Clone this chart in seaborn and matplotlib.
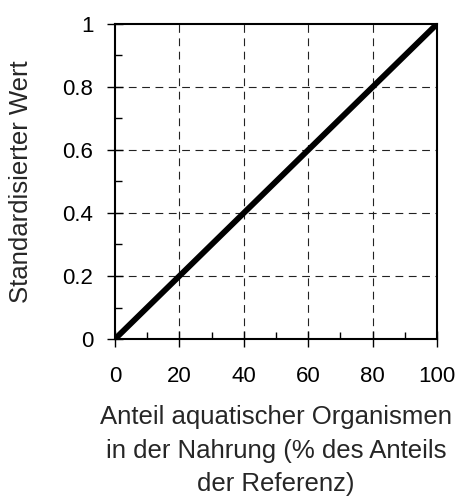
import matplotlib
matplotlib.use("Agg")
import matplotlib.pyplot as plt
import seaborn as sns
import numpy as np
import pandas as pd

# data
anteil = [0, 100]
wert = [0, 1]
x_ticks = [0, 20, 40, 60, 80, 100]
y_ticks = [0, 0.2, 0.4, 0.6, 0.8, 1]
y_tick_labels = ["0", "0.2", "0.4", "0.6", "0.8", "1"]

sns.set_theme(style="white")
plt.rcParams['font.family'] = ['Liberation Sans', 'DejaVu Sans']

df = pd.DataFrame({'anteil': anteil, 'wert': wert})

fig = plt.figure(figsize=(4.59, 4.98), dpi=100)
# plot box: x 115..437 px, y 24..339 px
ax = fig.add_axes([115 / 459, 1 - 339 / 498, 322 / 459, 315 / 498])

sns.lineplot(data=df, x='anteil', y='wert', color='black', linewidth=4.2, ax=ax)

ax.set_xlim(0, 100)
ax.set_ylim(0, 1)
ax.set_xticks(x_ticks)
ax.set_yticks(y_ticks)
ax.set_yticklabels(y_tick_labels)
ax.set_xticks(np.arange(10, 100, 20), minor=True)
ax.set_yticks(np.arange(0.1, 1.0, 0.2), minor=True)

# dashed grid at the major ticks
for v in x_ticks[1:-1]:
    ax.axvline(v, color='#222222', linestyle=(0, (7, 5)), linewidth=0.8, zorder=0)
for v in y_ticks[1:-1]:
    ax.axhline(v, color='#222222', linestyle=(0, (7, 5)), linewidth=0.8, zorder=0)

for s in ax.spines.values():
    s.set_color('black')
    s.set_linewidth(1.5)

ax.tick_params(axis='both', which='major', direction='inout', length=11, width=1,
               colors='black', labelsize=16)
ax.tick_params(axis='both', which='minor', direction='in', length=5, width=1,
               colors='black')
ax.tick_params(axis='x', which='major', pad=14)
ax.tick_params(axis='y', which='major', pad=10)
ax.tick_params(bottom=True, left=True, which='both')

ax.set_xlabel("Anteil aquatischer Organismen\nin der Nahrung (% des Anteils\nder Referenz)",
              fontsize=18.5, linespacing=1.5)
ax.set_ylabel("Standardisierter Wert", fontsize=18.5)
ax.xaxis.set_label_coords(0.5, -0.21)
ax.yaxis.set_label_coords(-0.255, 0.5)

fig.savefig("out.png", dpi=100)
